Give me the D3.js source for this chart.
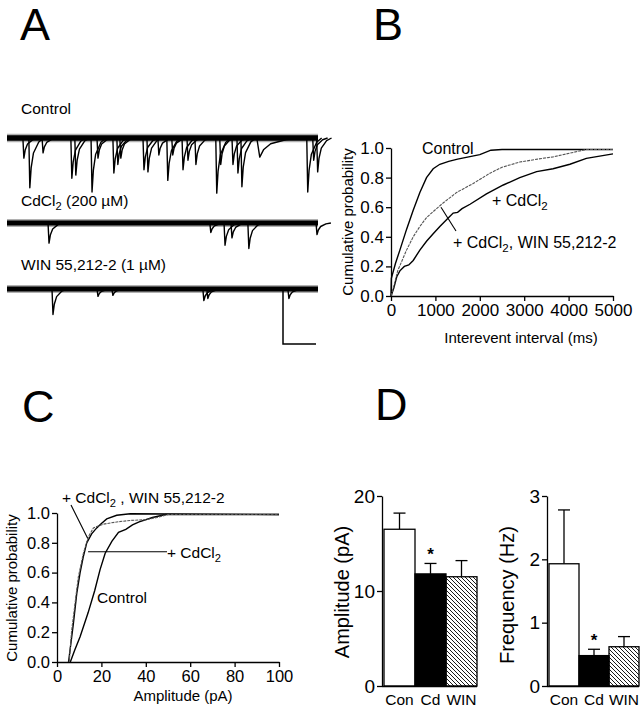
<!DOCTYPE html>
<html>
<head>
<meta charset="utf-8">
<script src="https://cdnjs.cloudflare.com/ajax/libs/d3/7.8.5/d3.min.js"></script>
<style>
  body { margin: 0; background: #fff; }
  svg { font-family: "Liberation Sans", Arial, sans-serif; }
</style>
</head>
<body>
<svg id="fig" width="642" height="720"></svg>
<script>
// ---- DATA ----
const traceNames = ["Control", "CdCl₂ (200 µM)", "WIN 55,212-2 (1 µM)"];
// events: [time (s), amplitude (pA), decay stretch]
const controlEvents = [
  [0.48, 19, 1], [0.66, 47, 1], [1.06, 14, 1], [1.93, 38, 1], [2.05, 35, 1],
  [2.54, 51, 1], [2.72, 19, 1], [3.20, 33, 1], [3.32, 25, 1], [3.41, 19, 1],
  [4.11, 30, 1], [4.23, 32, 1], [4.56, 16, 1], [4.83, 40, 1], [4.98, 16, 1],
  [5.29, 30, 1], [5.44, 21, 1], [5.68, 25, 1], [6.31, 52, 1], [6.43, 25, 1],
  [6.80, 25, 1], [6.95, 33, 1], [7.07, 46, 1], [7.55, 18, 3], [9.06, 51, 1],
  [9.24, 21, 1], [9.36, 32, 1]
];
const cdEvents = [
  [1.24, 19, 1], [6.13, 9, 1], [6.56, 21, 1], [6.77, 14, 1], [7.28, 24, 1], [9.34, 11, 1]
];
const winEvents = [
  [1.36, 24, 1], [2.72, 7, 1], [3.17, 6, 1], [5.92, 11, 1], [6.04, 9, 1], [8.49, 9, 1]
];
// shape of one event: [time offset (s), fraction of peak]
const eventShape = [[0, 0], [0.03, 1], [0.07, 0.6], [0.14, 0.3], [0.3, 0.08], [0.45, 0]];

const probTicks = [0, 0.2, 0.4, 0.6, 0.8, 1.0];
const intervalTicks = [0, 1000, 2000, 3000, 4000, 5000];
const intervalControl = [
  [0, 0], [8, 0.12], [100, 0.22], [200, 0.31], [350, 0.45], [500, 0.58], [650, 0.70],
  [800, 0.80], [950, 0.86], [1100, 0.89], [1300, 0.91], [1500, 0.925], [1750, 0.94],
  [2000, 0.955], [2250, 0.985], [2500, 0.99], [5000, 0.99]
];
const intervalCd = [
  [0, 0], [60, 0.05], [130, 0.13], [200, 0.17], [300, 0.20], [400, 0.21], [500, 0.24],
  [650, 0.31], [800, 0.37], [950, 0.42], [1100, 0.47], [1300, 0.53], [1400, 0.56],
  [1500, 0.565], [1600, 0.59], [1780, 0.62], [2150, 0.69], [2530, 0.75], [2900, 0.80],
  [3280, 0.84], [3650, 0.86], [4030, 0.89], [4400, 0.93], [5000, 0.96]
];
const intervalWin = [
  [0, 0], [50, 0.05], [150, 0.17], [350, 0.31], [500, 0.40], [650, 0.47], [800, 0.53],
  [950, 0.57], [1180, 0.63], [1480, 0.70], [1850, 0.76], [2230, 0.83], [2500, 0.87],
  [2900, 0.905], [3300, 0.925], [3650, 0.94], [4100, 0.97], [4400, 0.99], [5000, 0.99]
];

const ampTicks = [0, 20, 40, 60, 80, 100];
const ampControl = [
  [6, 0], [8, 0.08], [10.4, 0.17], [14, 0.33], [17, 0.48], [19.4, 0.62], [21.7, 0.73],
  [24.7, 0.81], [27.7, 0.87], [31, 0.89], [34, 0.92], [37, 0.94], [43, 0.97], [49, 0.99], [100, 0.99]
];
const ampCd = [
  [5.2, 0], [7.4, 0.26], [8.9, 0.46], [10.4, 0.6], [11.9, 0.71], [13.4, 0.8], [15.6, 0.86],
  [17.9, 0.9], [20, 0.93], [22.4, 0.96], [26.9, 0.985], [33, 0.995], [100, 0.99]
];
const ampWin = [
  [5.5, 0], [6.6, 0.21], [8.1, 0.39], [9.6, 0.57], [11.9, 0.73], [14.1, 0.84], [16.4, 0.9],
  [18, 0.91], [20.9, 0.925], [26.9, 0.94], [33, 0.95], [40, 0.955], [45, 0.97], [50, 0.99], [100, 0.99]
];

const groups = ["Con", "Cd", "WIN"];
const amplitudeMean = [16.5, 11.8, 11.5];
const amplitudeSem = [1.7, 1.1, 1.7];
const amplitudeTicks = [0, 10, 20];
const frequencyMean = [1.93, 0.48, 0.62];
const frequencySem = [0.85, 0.10, 0.16];
const frequencyTicks = [0, 1, 2, 3];
const significant = [false, true, false];

// ---- HELPERS ----
const svg = d3.select("#fig");

// writes "CdCl₂ ..." with a real subscript
const richText = (sel, str) => {
  const parts = str.split("₂");
  parts.forEach((p, i) => {
    sel.append("tspan").text(p).attr("dy", i === 0 ? null : -4);
    if (i < parts.length - 1) {
      sel.append("tspan").text("2").attr("font-size", "0.72em").attr("dy", 4);
    }
  });
  return sel;
};

const styleAxis = (g, size) => {
  g.attr("font-family", null).attr("font-size", size);
  g.selectAll("path, line").attr("stroke", "#000").attr("stroke-width", 1.3);
  g.selectAll("text").attr("fill", "#000");
};

// panel letters
[["A", 20, 40], ["B", 373, 40], ["C", 22, 422], ["D", 375, 420]].forEach(([t, x, y]) => {
  svg.append("text").attr("x", x).attr("y", y).attr("font-size", 45).text(t);
});

// ---- PANEL A: traces ----
const traceX = d3.scaleLinear().domain([0, 9.4]).range([7, 318]);
const traceRows = [
  { events: controlEvents, base: 138, labelY: 114, band: 5.5 },
  { events: cdEvents, base: 223, labelY: 206, band: 5 },
  { events: winEvents, base: 289, labelY: 270, band: 5 }
];
const gA = svg.append("g");
traceRows.forEach((row, i) => {
  const y = d3.scaleLinear().domain([0, 50]).range([row.base, row.base + 53]);
  richText(gA.append("text").attr("x", 21).attr("y", row.labelY).attr("font-size", 15.5), traceNames[i]);

  // noisy baseline band: soft fringe + solid core
  gA.append("line")
    .attr("x1", traceX(0)).attr("x2", traceX(9.4))
    .attr("y1", y(0)).attr("y2", y(0))
    .attr("stroke", "#000").attr("stroke-width", row.band + 3).attr("opacity", 0.3);
  gA.append("line")
    .attr("x1", traceX(0)).attr("x2", traceX(9.4))
    .attr("y1", y(0)).attr("y2", y(0))
    .attr("stroke", "#000").attr("stroke-width", row.band);

  // events
  row.events.forEach(ev => {
    const line = d3.line()
      .x(d => traceX(ev[0] + d[0] * ev[2]))
      .y(d => y(ev[1] * d[1]));
    gA.append("path")
      .attr("d", line(eventShape))
      .attr("fill", "none").attr("stroke", "#000")
      .attr("stroke-width", 1.4).attr("stroke-linejoin", "round");
  });
});
// scale bar
gA.append("path")
  .attr("d", d3.line()([[283, 290], [283, 344], [316, 344]]))
  .attr("fill", "none").attr("stroke", "#000").attr("stroke-width", 1.5);

// ---- cumulative panels ----
const cumulativePanel = (o) => {
  const g = svg.append("g");
  const x = d3.scaleLinear().domain(o.xDomain).range(o.xRange);
  const y = d3.scaleLinear().domain([0, 1]).range(o.yRange);

  const gx = g.append("g").attr("transform", `translate(0,${o.yRange[0]})`)
    .call(d3.axisBottom(x).tickValues(o.xTicks).tickFormat(d3.format("d"))
      .tickSize(5).tickSizeOuter(0).tickPadding(3));
  styleAxis(gx, o.font);
  const gy = g.append("g").attr("transform", `translate(${o.xRange[0]},0)`)
    .call(d3.axisLeft(y).tickValues(probTicks).tickFormat(d3.format(".1f"))
      .tickSize(5).tickSizeOuter(0).tickPadding(2));
  styleAxis(gy, o.font);

  o.series.forEach(s => {
    g.append("path")
      .attr("d", d3.line().x(d => x(d[0])).y(d => y(d[1]))(s.data))
      .attr("fill", "none")
      .attr("stroke", s.dashed ? "#555" : "#000")
      .attr("stroke-width", s.dashed ? 1.1 : 1.4)
      .attr("stroke-dasharray", s.dashed ? "3 1" : null);
  });

  g.append("text")
    .attr("transform", `translate(${o.yLabelPos[0]},${o.yLabelPos[1]}) rotate(-90)`)
    .attr("text-anchor", "middle").attr("font-size", 15).text("Cumulative probability");
  g.append("text")
    .attr("x", o.xLabelPos[0]).attr("y", o.xLabelPos[1])
    .attr("text-anchor", "middle").attr("font-size", 15).text(o.xLabel);
  return { g, x, y };
};

// ---- PANEL B ----
const B = cumulativePanel({
  xDomain: [0, 5000], xRange: [391, 613], yRange: [296, 148], xTicks: intervalTicks, font: 17,
  series: [{ data: intervalControl }, { data: intervalCd }, { data: intervalWin, dashed: true }],
  yLabelPos: [353, 222], xLabelPos: [521, 343], xLabel: "Interevent interval (ms)"
});
B.g.append("text").attr("x", 422).attr("y", 154).attr("font-size", 16).text("Control");
richText(B.g.append("text").attr("x", 492).attr("y", 206).attr("font-size", 16), "+ CdCl₂");
richText(B.g.append("text").attr("x", 453).attr("y", 248).attr("font-size", 16), "+ CdCl₂, WIN 55,212-2");
B.g.append("line")
  .attr("x1", B.x(1126)).attr("y1", B.y(0.60))
  .attr("x2", 456).attr("y2", 231)
  .attr("stroke", "#000").attr("stroke-width", 1.1);

// ---- PANEL C ----
const C = cumulativePanel({
  xDomain: [0, 100], xRange: [57, 279], yRange: [662, 513], xTicks: ampTicks, font: 16.5,
  series: [{ data: ampControl }, { data: ampCd }, { data: ampWin, dashed: true }],
  yLabelPos: [17, 588], xLabelPos: [183, 701], xLabel: "Amplitude (pA)"
});
richText(C.g.append("text").attr("x", 62).attr("y", 503).attr("font-size", 15.5), "+ CdCl₂ , WIN 55,212-2");
C.g.append("line")
  .attr("x1", 71).attr("y1", 505).attr("x2", C.x(13.8)).attr("y2", C.y(0.83))
  .attr("stroke", "#000").attr("stroke-width", 1.1);
C.g.append("line")
  .attr("x1", C.x(14)).attr("y1", C.y(0.74)).attr("x2", 167).attr("y2", C.y(0.74))
  .attr("stroke", "#000").attr("stroke-width", 1.1);
richText(C.g.append("text").attr("x", 167).attr("y", 558).attr("font-size", 15.5), "+ CdCl₂");
C.g.append("text").attr("x", 97).attr("y", 603).attr("font-size", 15.5).text("Control");

// ---- PANEL D: bars ----
const defs = svg.append("defs");
defs.append("pattern")
  .attr("id", "hatch").attr("patternUnits", "userSpaceOnUse")
  .attr("width", 4).attr("height", 4)
  .append("path")
  .attr("d", "M-1,-1 L5,5 M-1,3 L1,5 M3,-1 L5,1")
  .attr("stroke", "#000").attr("stroke-width", 0.9);

const barFill = ["#fff", "#000", "url(#hatch)"];

const barPanel = (o) => {
  const g = svg.append("g");
  const x = d3.scaleBand().domain(groups).range(o.xRange).padding(0);
  const y = d3.scaleLinear().domain(o.yDomain).range([686, 496]);

  groups.forEach((k, i) => {
    const cx = x(k) + x.bandwidth() / 2;
    g.append("line")
      .attr("x1", cx).attr("x2", cx)
      .attr("y1", y(o.mean[i])).attr("y2", y(o.mean[i] + o.sem[i]))
      .attr("stroke", "#000").attr("stroke-width", 1.3);
    g.append("line")
      .attr("x1", cx - 6).attr("x2", cx + 6)
      .attr("y1", y(o.mean[i] + o.sem[i])).attr("y2", y(o.mean[i] + o.sem[i]))
      .attr("stroke", "#000").attr("stroke-width", 1.3);
    g.append("rect")
      .attr("x", x(k)).attr("width", x.bandwidth())
      .attr("y", y(o.mean[i])).attr("height", y(0) - y(o.mean[i]))
      .attr("fill", barFill[i]).attr("stroke", "#000").attr("stroke-width", 1.3);
    if (significant[i]) {
      g.append("text")
        .attr("x", cx).attr("y", y(o.mean[i] + o.sem[i]) - 3)
        .attr("text-anchor", "middle").attr("font-size", 17).attr("font-weight", "bold").text("*");
    }
  });

  const gx = g.append("g").attr("transform", "translate(0,686)")
    .call(d3.axisBottom(x).tickSize(0).tickPadding(8));
  styleAxis(gx, 15.5);
  gx.select(".domain").attr("d", `M${o.axisX},0.5H${o.xRange[1]}`);

  const gy = g.append("g").attr("transform", `translate(${o.axisX},0)`)
    .call(d3.axisLeft(y).tickValues(o.ticks).tickFormat(d3.format("d"))
      .tickSize(5).tickSizeOuter(0).tickPadding(2));
  styleAxis(gy, 19);

  g.append("text")
    .attr("transform", `translate(${o.labelPos[0]},${o.labelPos[1]}) rotate(-90)`)
    .attr("text-anchor", "middle").attr("font-size", 20).text(o.label);
};

barPanel({
  xRange: [384, 477], axisX: 382, yDomain: [0, 20], ticks: amplitudeTicks,
  mean: amplitudeMean, sem: amplitudeSem, label: "Amplitude (pA)", labelPos: [349, 592]
});
barPanel({
  xRange: [549, 639], axisX: 547, yDomain: [0, 3], ticks: frequencyTicks,
  mean: frequencyMean, sem: frequencySem, label: "Frequency (Hz)", labelPos: [514, 595]
});
</script>
</body>
</html>
